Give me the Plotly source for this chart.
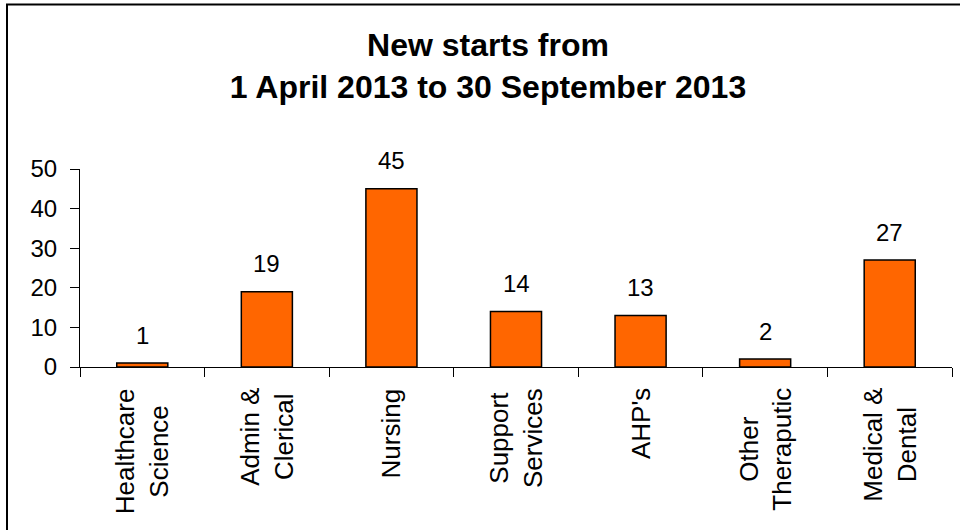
import plotly.graph_objects as go

# Staff groups and number of new starters, 1 April - 30 September 2013
categories = [
    "Healthcare<br>Science",
    "Admin &<br>Clerical",
    "Nursing",
    "Support<br>Services",
    "AHP's",
    "Other<br>Theraputic",
    "Medical &<br>Dental",
]
new_starts = [1, 19, 45, 14, 13, 2, 27]
y_ticks = [0, 10, 20, 30, 40, 50]

FONT = "Liberation Sans, Arial, sans-serif"
W, H = 960, 530
M_L, M_R, M_T, M_B = 80, 8, 169, 163

fig = go.Figure(
    go.Bar(
        x=categories,
        y=new_starts,
        width=0.41,
        marker=dict(color="#FF6600", line=dict(color="black", width=1.5)),
        hoverinfo="x+y",
    )
)

# value labels above each bar
for cat, val in zip(categories, new_starts):
    fig.add_annotation(
        x=cat, y=val, text=str(val), showarrow=False,
        yanchor="middle", yshift=28,
        font=dict(family=FONT, size=24, color="black"),
    )

# category names, rotated, with centred lines
for cat in categories:
    fig.add_annotation(
        x=cat, y=0, text=cat, showarrow=False,
        textangle=-90, align="center",
        xanchor="center", yanchor="top", yshift=-19,
        font=dict(family=FONT, size=26, color="black"),
    )

# chart frame (left and top edges fall inside the canvas)
pw = W - M_L - M_R
ph = H - M_T - M_B
fig.add_shape(
    type="rect", xref="paper", yref="paper",
    x0=(7 - M_L) / pw, x1=(W + 20 - M_L) / pw,
    y0=-(H + 20 - (H - M_B)) / ph, y1=(H - M_B - 4.5) / ph,
    line=dict(color="black", width=2), fillcolor="rgba(0,0,0,0)",
    layer="below",
)

fig.update_layout(
    width=W, height=H,
    margin=dict(l=M_L, r=M_R, t=M_T, b=M_B),
    paper_bgcolor="white", plot_bgcolor="white",
    showlegend=False,
    font=dict(family=FONT, size=24, color="black"),
    title=dict(
        text="<b>New starts from<br>1 April 2013 to 30 September 2013</b>",
        x=488 / W, xref="container", xanchor="center",
        y=1 - 56 / H, yref="container", yanchor="middle",
        font=dict(family=FONT, size=32, color="black"),
    ),
    xaxis=dict(
        type="category",
        showline=True, linecolor="black", linewidth=1,
        ticks="outside", tickson="boundaries", ticklen=9,
        tickcolor="black", tickwidth=1,
        showticklabels=False,
        showgrid=False, zeroline=False,
    ),
    yaxis=dict(
        range=[0, 50],
        tickvals=y_ticks,
        showline=True, linecolor="black", linewidth=1,
        ticks="outside", ticklen=9, tickcolor="black", tickwidth=1,
        tickfont=dict(family=FONT, size=24, color="black"),
        showgrid=False, zeroline=False,
        ticklabelstandoff=8,
    ),
)

fig.write_html("out.html")
